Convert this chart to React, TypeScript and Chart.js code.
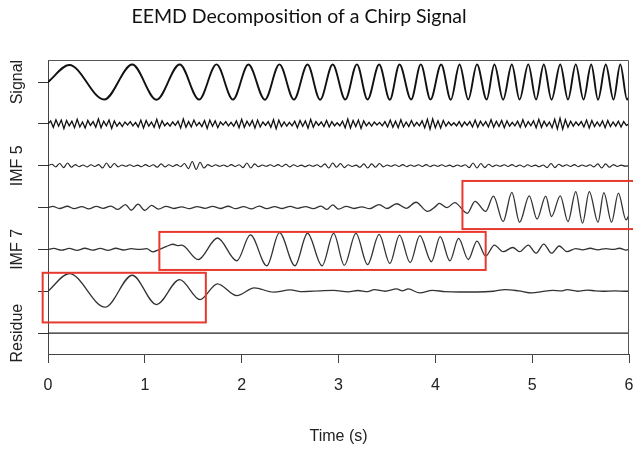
import { useEffect, useRef } from "react";
import { Chart, registerables } from "chart.js";

Chart.register(...registerables);

// ---------- data ----------
const chartTitle = "EEMD Decomposition of a Chirp Signal";
const xAxisTitle = "Time (s)";
const xTickValues = [0, 1, 2, 3, 4, 5, 6];
// traces from bottom to top
const traceNames = ["Residue", "IMF 8", "IMF 7", "IMF 6", "IMF 5", "IMF 4", "Signal"];
const traceLabelsShown = ["Residue", "", "IMF 7", "", "IMF 5", "", "Signal"];

const signalPoints: [number, number][] = [
  [0, 0], [0.22, 0.9], [0.58, -0.92], [0.87, 0.92], [1.12, -0.93], [1.36, 0.92], [1.56, -0.92],
  [1.74, 0.93], [1.91, -0.92], [2.07, 0.92], [2.24, -0.93], [2.39, 0.93], [2.54, -0.92],
  [2.68, 0.92], [2.81, -0.93], [2.94, 0.92], [3.07, -0.92], [3.19, 0.93], [3.3, -0.92],
  [3.42, 0.92], [3.53, -0.93], [3.63, 0.92], [3.75, -0.92], [3.85, 0.93], [3.95, -0.92],
  [4.06, 0.92], [4.16, -0.93], [4.25, 0.92], [4.34, -0.92], [4.43, 0.93], [4.53, -0.92],
  [4.61, 0.92], [4.7, -0.93], [4.79, 0.92], [4.87, -0.92], [4.96, 0.93], [5.04, -0.92],
  [5.12, 0.92], [5.2, -0.93], [5.29, 0.92], [5.37, -0.92], [5.45, 0.93], [5.53, -0.92],
  [5.61, 0.92], [5.68, -0.93], [5.76, 0.92], [5.84, -0.92], [5.91, 0.93], [5.98, -0.92],
  [6.0, -0.8],
];

// IMF 4: high-frequency noise, evenly sampled over 0..6 s
const imf4Values = [
  0.0, 0.15, -0.18, 0.22, -0.12, 0.2, -0.25, 0.18, -0.1, 0.14,
  -0.2, 0.24, -0.16, 0.1, -0.22, 0.18, -0.08, 0.12, -0.18, 0.26,
  -0.2, 0.14, -0.1, 0.2, -0.24, 0.16, -0.12, 0.08, -0.14, 0.1,
  -0.06, 0.12, -0.1, 0.08, -0.16, 0.2, -0.22, 0.18, -0.12, 0.1,
  -0.18, 0.24, -0.2, 0.16, -0.1, 0.06, -0.12, 0.1, -0.08, 0.14,
  -0.22, 0.26, -0.18, 0.12, -0.16, 0.2, -0.1, 0.08, -0.14, 0.18,
  -0.24, 0.2, -0.12, 0.16, -0.2, 0.1, -0.06, 0.12, -0.1, 0.08,
  -0.12, 0.16, -0.2, 0.24, -0.18, 0.14, -0.1, 0.18, -0.22, 0.2,
  -0.16, 0.1, -0.08, 0.12, -0.18, 0.22, -0.26, 0.2, -0.14, 0.1,
  -0.12, 0.08, -0.1, 0.14, -0.2, 0.18, -0.12, 0.16, -0.22, 0.24,
  -0.18, 0.12, -0.08, 0.1, -0.14, 0.18, -0.16, 0.12, -0.1, 0.06,
  -0.1, 0.14, -0.2, 0.26, -0.22, 0.18, -0.14, 0.2, -0.24, 0.16,
  -0.1, 0.08, -0.12, 0.1, -0.06, 0.08, -0.1, 0.12, -0.16, 0.2,
  -0.18, 0.14, -0.2, 0.22, -0.16, 0.1, -0.14, 0.18, -0.12, 0.08,
  -0.1, 0.16, -0.2, 0.24, -0.28, 0.26, -0.2, 0.16, -0.22, 0.18,
  -0.12, 0.1, -0.08, 0.06, -0.1, 0.12, -0.14, 0.1, -0.08, 0.12,
  -0.16, 0.2, -0.18, 0.14, -0.1, 0.12, -0.16, 0.22, -0.18, 0.14,
  -0.14, 0.18, -0.2, 0.16, -0.12, 0.08, -0.1, 0.14, -0.18, 0.22,
  -0.16, 0.12, -0.1, 0.16, -0.2, 0.24, -0.18, 0.14, -0.12, 0.1,
  -0.2, 0.24, -0.26, 0.3, -0.28, 0.22, -0.18, 0.14, -0.12, 0.1,
  -0.08, 0.12, -0.16, 0.2, -0.22, 0.18, -0.14, 0.1, -0.12, 0.16,
  -0.2, 0.18, -0.14, 0.1, -0.12, 0.14, -0.16, 0.12, -0.08, 0.0,
];

// IMF 5: lower-amplitude wiggles, evenly sampled over 0..6 s
const imf5Values = [
  0, 0.08, -0.06, 0.12, -0.1, 0.14, -0.08, 0.06, -0.05, 0.04,
  -0.06, 0.05, -0.04, 0.06, -0.12, 0.14, -0.1, 0.12, -0.06, 0.04,
  -0.03, 0.05, -0.04, 0.03, -0.05, 0.06, -0.04, 0.05, -0.08, 0.1,
  -0.06, 0.05, -0.04, 0.06, -0.05, 0.12, -0.16, 0.22, -0.2, 0.18,
  -0.12, 0.06, -0.04, 0.05, -0.03, 0.04, -0.05, 0.06, -0.04, 0.05,
  -0.1, 0.14, -0.12, 0.1, -0.05, 0.04, -0.03, 0.05, -0.04, 0.06,
  -0.05, 0.08, -0.06, 0.05, -0.04, 0.03, -0.05, 0.04, -0.03, 0.05,
  -0.06, 0.1, -0.12, 0.14, -0.08, 0.12, -0.1, 0.05, -0.04, 0.03,
  -0.08, 0.1, -0.12, 0.1, -0.08, 0.12, -0.06, 0.04, -0.03, 0.05,
  -0.04, 0.06, -0.05, 0.04, -0.03, 0.05, -0.04, 0.06, -0.05, 0.04,
  -0.03, 0.05, -0.04, 0.03, -0.05, 0.04, -0.03, 0.05, -0.1, 0.14,
  -0.12, 0.12, -0.1, 0.08, -0.05, 0.04, -0.03, 0.05, -0.04, 0.06,
  -0.05, 0.04, -0.06, 0.05, -0.04, 0.03, -0.05, 0.04, -0.1, 0.12,
  -0.1, 0.08, -0.03, 0.05, -0.04, 0.06, -0.05, 0.04, -0.03, 0.05,
  -0.06, 0.1, -0.12, 0.1, -0.08, 0.06, -0.04, 0.03, -0.02, 0,
];

const imf6Points: [number, number][] = [
  [0, 0], [0.05, 0.06], [0.12, -0.05], [0.2, 0.07], [0.27, -0.06], [0.35, 0.05], [0.42, -0.07],
  [0.5, 0.06], [0.57, -0.04], [0.65, 0.08], [0.72, -0.1], [0.8, 0.16], [0.86, -0.14], [0.93, 0.18],
  [1.0, -0.15], [1.07, 0.12], [1.14, -0.08], [1.22, 0.06], [1.3, -0.05], [1.38, 0.04], [1.46, -0.06],
  [1.54, 0.05], [1.62, -0.04], [1.7, 0.06], [1.78, -0.05], [1.86, 0.07], [1.94, -0.06], [2.02, 0.05],
  [2.1, -0.07], [2.18, 0.08], [2.26, -0.06], [2.34, 0.05], [2.42, -0.05], [2.5, 0.06], [2.58, -0.04],
  [2.66, 0.05], [2.74, -0.06], [2.82, 0.08], [2.88, -0.1], [2.94, 0.14], [3.0, -0.08], [3.08, 0.06],
  [3.16, -0.05], [3.24, 0.04], [3.32, -0.06], [3.42, 0.16], [3.5, -0.05], [3.6, 0.2], [3.7, -0.04],
  [3.8, 0.28], [3.92, -0.2], [4.0, 0.05], [4.04, 0.22], [4.12, 0.0], [4.2, 0.26], [4.33, -0.3],
  [4.41, 0.33], [4.52, -0.2], [4.6, 0.6], [4.7, -0.74], [4.79, 0.8], [4.87, -0.77], [4.97, 0.62],
  [5.05, -0.6], [5.14, 0.6], [5.2, -0.47], [5.29, 0.62], [5.37, -0.74], [5.45, 0.84], [5.52, -0.82],
  [5.59, 0.84], [5.68, -0.77], [5.74, 0.79], [5.82, -0.77], [5.89, 0.76], [5.97, -0.65], [6.0, -0.4],
];

const imf7Points: [number, number][] = [
  [0, 0], [0.06, 0.05], [0.14, -0.04], [0.22, 0.05], [0.3, -0.05], [0.38, 0.06], [0.46, -0.04],
  [0.54, 0.05], [0.62, -0.05], [0.7, 0.06], [0.78, -0.03], [0.86, 0.04], [0.94, 0.0], [1.02, 0.04],
  [1.08, -0.13], [1.15, 0.0], [1.22, 0.15], [1.29, 0.27], [1.34, 0.2], [1.38, 0.22], [1.55, -0.54],
  [1.75, 0.6], [1.95, -0.6], [2.09, 0.76], [2.26, -0.86], [2.39, 0.88], [2.55, -0.86], [2.68, 0.85],
  [2.83, -0.86], [2.95, 0.84], [3.06, -0.83], [3.18, 0.84], [3.3, -0.8], [3.42, 0.79], [3.53, -0.74],
  [3.63, 0.75], [3.74, -0.7], [3.84, 0.72], [3.96, -0.65], [4.05, 0.67], [4.15, -0.6], [4.24, 0.58],
  [4.34, -0.53], [4.43, 0.44], [4.52, -0.35], [4.61, 0.23], [4.7, -0.12], [4.8, 0.1], [4.87, -0.12],
  [4.96, 0.23], [5.04, -0.2], [5.12, 0.28], [5.2, -0.2], [5.28, 0.18], [5.36, -0.12], [5.45, 0.04],
  [5.52, -0.02], [5.6, 0.06], [5.68, -0.02], [5.76, 0.04], [5.84, 0.0], [5.9, 0.06], [5.97, -0.04],
  [6.0, 0],
];

const imf8Points: [number, number][] = [
  [0, 0], [0.22, 0.93], [0.59, -0.84], [0.87, 0.84], [1.12, -0.7], [1.36, 0.61], [1.57, -0.44],
  [1.75, 0.39], [1.95, -0.23], [2.13, 0.18], [2.33, -0.05], [2.5, 0.07], [2.63, -0.02], [2.8, 0.02],
  [2.95, 0.05], [3.1, -0.03], [3.2, 0.04], [3.3, -0.02], [3.37, 0.08], [3.48, 0.0], [3.6, 0.12],
  [3.66, 0.02], [3.72, 0.12], [3.84, -0.09], [3.97, 0.05], [4.1, -0.02], [4.25, -0.04], [4.43, -0.04],
  [4.6, 0.0], [4.72, 0.09], [4.86, 0.02], [5.0, -0.09], [5.1, -0.02], [5.21, 0.05], [5.3, 0.02],
  [5.36, 0.08], [5.47, 0.0], [5.57, 0.06], [5.65, 0.02], [5.73, 0.0], [5.85, 0.02], [5.98, 0.0],
  [6.0, 0],
];

const residuePoints: [number, number][] = [
  [0, 0], [6, 0],
];

// highlighted regions: [tStart, tEnd, topValue, bottomValue] in plot units
const highlightBoxes: [number, number, number, number][] = [
  [-0.055, 1.63, 3.17, 0.56],
  [1.15, 4.52, 5.32, 3.32],
  [4.28, 6.2, 8.0, 5.47],
];

// ---------- layout constants ----------
const TRACE_GAP = 2.2;
const Y_MIN = -1.1;
const Y_MAX = 14.36;

function evenlySampled(values: number[]): [number, number][] {
  const n = values.length;
  return values.map((v, i) => [(6 * i) / (n - 1), v]);
}

const traceData: { pts: [number, number][]; smooth: boolean; width: number; color: string }[] = [
  { pts: residuePoints, smooth: false, width: 1.3, color: "#222" },
  { pts: imf8Points, smooth: true, width: 1.3, color: "#333" },
  { pts: imf7Points, smooth: true, width: 1.3, color: "#333" },
  { pts: imf6Points, smooth: true, width: 1.3, color: "#333" },
  { pts: evenlySampled(imf5Values), smooth: true, width: 1.1, color: "#222" },
  { pts: evenlySampled(imf4Values), smooth: false, width: 1.3, color: "#111" },
  { pts: signalPoints, smooth: true, width: 1.9, color: "#111" },
];

const decorPlugin = {
  id: "decor",
  afterDraw(chart: any) {
    const { ctx, chartArea, scales } = chart;
    const xs = scales.x;
    const ys = scales.y;
    ctx.save();
    // frame: top & right
    ctx.strokeStyle = "#555";
    ctx.lineWidth = 1;
    ctx.beginPath();
    ctx.moveTo(chartArea.left, Math.round(chartArea.top) + 0.5);
    ctx.lineTo(Math.round(chartArea.right) - 0.5, Math.round(chartArea.top) + 0.5);
    ctx.lineTo(Math.round(chartArea.right) - 0.5, chartArea.bottom);
    ctx.stroke();

    // highlight boxes
    ctx.strokeStyle = "#e8392e";
    ctx.lineWidth = 2;
    for (const [t0, t1, top, bottom] of highlightBoxes) {
      const x0 = xs.getPixelForValue(t0);
      const x1 = xs.getPixelForValue(t1);
      const y0 = ys.getPixelForValue(top);
      const y1 = ys.getPixelForValue(bottom);
      ctx.strokeRect(x0, y0, x1 - x0, y1 - y0);
    }

    // trace labels (rotated)
    ctx.fillStyle = "#222";
    ctx.font = '16px "Liberation Sans", Arial, sans-serif';
    ctx.textAlign = "center";
    ctx.textBaseline = "middle";
    traceLabelsShown.forEach((label, i) => {
      if (!label) return;
      const y = ys.getPixelForValue(i * TRACE_GAP);
      ctx.save();
      ctx.translate(18, y);
      ctx.rotate(-Math.PI / 2);
      ctx.fillText(label, 0, 0);
      ctx.restore();
    });

    // title
    ctx.fillStyle = "#111";
    ctx.font = '19.5px Lato, "Open Sans", sans-serif';
    ctx.textAlign = "center";
    ctx.textBaseline = "middle";
    ctx.fillText(chartTitle, 299, 17);
    ctx.restore();
  },
};

export default function App() {
  const canvasRef = useRef<HTMLCanvasElement | null>(null);

  useEffect(() => {
    const canvas = canvasRef.current;
    if (!canvas) return;
    const datasets = traceData.map((tr, i) => ({
      label: traceNames[i],
      data: tr.pts.map(([t, v]) => ({ x: t, y: v + i * TRACE_GAP })),
      borderColor: tr.color,
      borderWidth: tr.width,
      pointRadius: 0,
      fill: false,
      tension: 0,
      cubicInterpolationMode: tr.smooth ? ("monotone" as const) : ("default" as const),
    }));

    const chart = new Chart(canvas, {
      type: "line",
      data: { datasets },
      options: {
        animation: false,
        responsive: false,
        devicePixelRatio: 1,
        parsing: false as any,
        layout: { padding: { left: 0, right: 4, top: 60, bottom: 0 } },
        plugins: {
          legend: { display: false },
          tooltip: { enabled: false },
          title: { display: false },
        },
        scales: {
          x: {
            type: "linear",
            min: 0,
            max: 6,
            afterBuildTicks: (scale: any) => {
              scale.ticks = xTickValues.map((v) => ({ value: v }));
            },
            afterFit: (scale: any) => {
              scale.height = 96;
              scale.paddingLeft = 0;
              scale.paddingRight = 0;
            },
            ticks: {
              color: "#222",
              font: { family: '"Liberation Sans", Arial, sans-serif', size: 16 },
              padding: 13,
              maxRotation: 0,
              callback: (v: any) => String(v),
            },
            grid: {
              drawOnChartArea: false,
              drawTicks: true,
              tickLength: 9,
              color: "#444",
            },
            border: { display: true, color: "#444", width: 1 },
            title: {
              display: true,
              text: xAxisTitle,
              color: "#222",
              font: { family: '"Liberation Sans", Arial, sans-serif', size: 16 },
              padding: { top: 0, bottom: 4 },
            },
          },
          y: {
            type: "linear",
            min: Y_MIN,
            max: Y_MAX,
            afterBuildTicks: (scale: any) => {
              scale.ticks = traceNames.map((_, i) => ({ value: i * TRACE_GAP }));
            },
            afterFit: (scale: any) => {
              scale.width = 48;
              scale.paddingTop = 0;
              scale.paddingBottom = 0;
            },
            ticks: {
              callback: () => "",
              padding: 0,
            },
            grid: {
              drawOnChartArea: false,
              drawTicks: true,
              tickLength: 10,
              color: "#333",
            },
            border: { display: true, color: "#444", width: 1 },
          },
        },
      },
      plugins: [decorPlugin],
    });
    return () => chart.destroy();
  }, []);

  return (
    <div style={{ position: "fixed", left: 0, top: 0, width: 633, height: 450, background: "#fff" }}>
      <canvas ref={canvasRef} width={633} height={450} style={{ width: 633, height: 450 }} />
    </div>
  );
}
